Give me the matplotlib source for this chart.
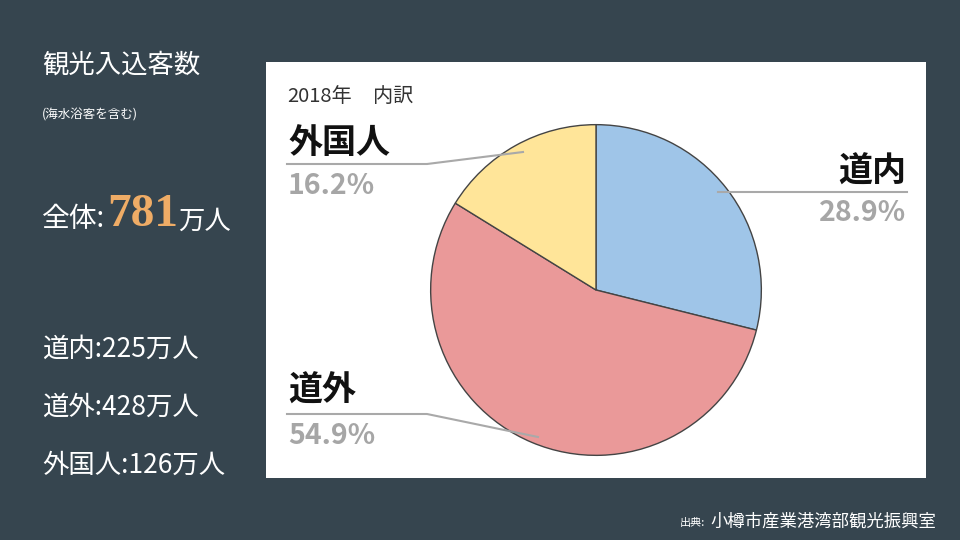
import matplotlib
matplotlib.use("Agg")
import matplotlib.pyplot as plt
from matplotlib.patches import Rectangle

plt.rcParams['font.family'] = ['Noto Sans CJK JP', 'DejaVu Sans']

# データ
regions = ['道内', '道外', '外国人']
visitors = [225, 428, 126]          # 万人
shares = [28.9, 54.9, 16.2]         # %
colors = ['#9fc5e8', '#ea9999', '#ffe599']
total = 781

W, H = 960, 540
bg = '#36454f'
fig = plt.figure(figsize=(W / 100, H / 100), dpi=100, facecolor=bg)


def px(x, y):
    # ピクセル座標 -> figure座標
    return x / W, 1 - y / H


# 白いパネル
fig.patches.append(Rectangle(px(266, 478), 660 / W, 416 / H, transform=fig.transFigure,
                             facecolor='white', edgecolor='none', zorder=-5))

# 円グラフ
cx, cy, r = 596, 290, 167
ax = fig.add_axes([(cx - r) / W, 1 - (cy + r) / H, 2 * r / W, 2 * r / H], zorder=2)
ax.patch.set_alpha(0)
ax.pie(shares, colors=colors, startangle=90, counterclock=False,
       wedgeprops=dict(edgecolor='#444444', linewidth=1.0))
ax.set_xlim(-1.01, 1.01)
ax.set_ylim(-1.01, 1.01)
ax.set_aspect('equal')
ax.axis('off')

# 引き出し線
line_c = '#a9a9a9'
leaders = {
    '外国人': [(287, 164), (427, 164), (523, 152)],
    '道内': [(907, 192), (718, 192)],
    '道外': [(287, 414), (427, 414), (538, 437)],
}
for pts in leaders.values():
    xs = [p[0] / W for p in pts]
    ys = [1 - p[1] / H for p in pts]
    fig.add_artist(plt.Line2D(xs, ys, transform=fig.transFigure, color=line_c, lw=1.5, zorder=5))

# ラベル
lab = {'外国人': (288, 'left', 143, 186), '道内': (906, 'right', 171, 213), '道外': (288, 'left', 390, 436)}
for name, share in zip(regions, shares):
    x, ha, y1, y2 = lab[name]
    fig.text(*px(x, y1), name, ha=ha, va='center', fontsize=24.5, fontweight='bold', color='#111111')
    fig.text(*px(x, y2), f'{share}%', ha=ha, va='center', fontsize=20.5, fontweight='bold', color='#a6a6a6')

fig.text(*px(287, 97), '2018年', ha='left', va='center', fontsize=14.5, color='#333333')
fig.text(*px(373, 97), '内訳', ha='left', va='center', fontsize=14.5, color='#333333')

# 左側のテキスト
fig.text(*px(42, 65), '観光入込客数', ha='left', va='center', fontsize=19, color='white')
fig.text(*px(42, 115), '(海水浴客を含む)', ha='left', va='center', fontsize=9, color='white')
fig.text(*px(42, 219), '全体:', ha='left', va='center', fontsize=20, color='white')
fig.text(*px(107, 215), str(total), ha='left', va='center', fontsize=34, color='#efac66',
         fontweight='bold', family=['Liberation Serif'])
fig.text(*px(178, 221), '万人', ha='left', va='center', fontsize=19, color='white')

for i, (name, v) in enumerate(zip(regions, visitors)):
    fig.text(*px(42, 349 + i * 58), f'{name}:{v}万人', ha='left', va='center', fontsize=19, color='white')

fig.text(*px(680, 523), '出典:', ha='left', va='center', fontsize=8, color='white')
fig.text(*px(710, 522), '小樽市産業港湾部観光振興室', ha='left', va='center', fontsize=12.5, color='white')

fig.savefig('out.png', dpi=100, facecolor=bg)
